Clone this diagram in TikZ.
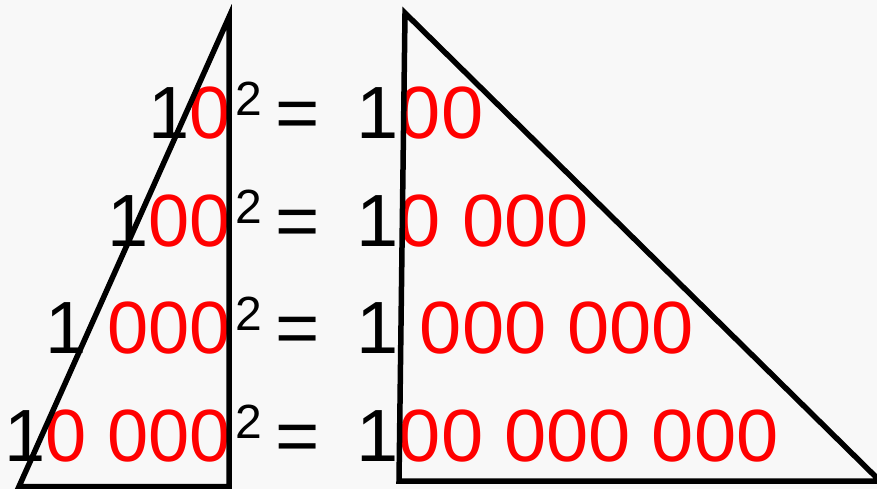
\documentclass[tikz,border=0pt]{standalone}
\usepackage{fontspec}
\setmainfont{Liberation Sans}
\newfontfamily\widesans[FakeStretch=1.025]{Liberation Sans}
\usepackage{tikz}
\definecolor{paper}{HTML}{F8F8F8}
\newcommand{\rd}[1]{\textcolor{red}{#1}}

\begin{document}
\begin{tikzpicture}[
    x=1pt, y=-1pt,
    num/.style={inner sep=0pt, outer sep=0pt, font=\fontsize{74}{90}\selectfont},
    widenum/.style={num, font=\widesans\fontsize{74}{90}\selectfont},
    exponent/.style={inner sep=0pt, outer sep=0pt, font=\fontsize{48}{58}\selectfont},
    tri/.style={draw=black, line width=5.5pt, line join=miter}
]
\useasboundingbox (0,0) rectangle (877,489);
\fill[paper] (0,0) rectangle (877,489);
% the four rows
\foreach \lhs/\rhs [count=\i from 0] in {1\rd{0}/1\rd{00}, 1\rd{00}/1\rd{0\ 000}, 1\rd{\ 000}/1\rd{\ 000\ 000}, 1\rd{0\ 000}/1\rd{00\ 000\ 000}} {
  \node[num, anchor=base east] (lhs\i) at (231, {138.3+107.7*\i}) {\lhs};
  \node[exponent, anchor=base west] (pow\i) at (235.3, {115.3+107.7*\i}) {2};
  \node[widenum, anchor=base west] (eq\i) at (275, {138.3+107.7*\i}) {=};
  \node[widenum, anchor=base west] (rhs\i) at (356.7, {138.3+107.7*\i}) {\rhs};
}
% triangles on top
\draw[tri] (229,17) -- (19,486.5) -- (229,486.5) -- cycle;
\draw[tri] (405,13) -- (399,481) -- (880,481) -- cycle;
\end{tikzpicture}
\end{document}
